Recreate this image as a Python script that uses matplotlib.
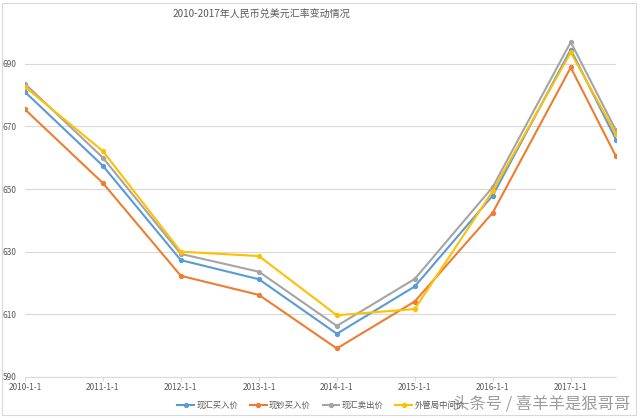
import matplotlib
matplotlib.use('Agg')
import matplotlib.pyplot as plt
import datetime as dt
from matplotlib.patches import Rectangle

plt.rcParams['font.family'] = ['Noto Sans CJK SC', 'DejaVu Sans']

# 数据
dates = ['2010-01-01', '2011-01-01', '2012-01-01', '2013-01-01', '2014-01-01',
         '2015-01-01', '2016-01-01', '2017-01-01', '2017-08-01']
xianhui_buy = [681.0, 657.4, 627.3, 621.2, 603.8, 618.9, 647.9, 694.5, 665.8]
xianchao_buy = [675.4, 651.9, 622.3, 616.2, 599.1, 614.1, 642.4, 688.8, 660.4]
xianhui_sell = [683.6, 660.0, 629.3, 623.6, 606.3, 621.3, 650.6, 696.9, 668.7]
mid_price = [682.6, 662.1, 630.0, 628.6, 609.7, 611.7, 649.3, 693.6, 667.5]

series_names = ['现汇买入价', '现钞买入价', '现汇卖出价', '外管局中间价']
colors = ['#5B9BD5', '#ED7D31', '#A5A5A5', '#FFC000']

tick_dates = ['2010-01-01', '2011-01-01', '2012-01-01', '2013-01-01',
              '2014-01-01', '2015-01-01', '2016-01-01', '2017-01-01']
tick_labels = ['2010-1-1', '2011-1-1', '2012-1-1', '2013-1-1',
               '2014-1-1', '2015-1-1', '2016-1-1', '2017-1-1']
y_ticks = [590, 610, 630, 650, 670, 690]

x = [dt.datetime.strptime(d, '%Y-%m-%d') for d in dates]
xt = [dt.datetime.strptime(d, '%Y-%m-%d') for d in tick_dates]

fig = plt.figure(figsize=(6.4, 4.18), dpi=100)
ax = fig.add_axes([25/640, 41/418, 591/640, 344.6/418])

for vals, name, c in zip([xianhui_buy, xianchao_buy, xianhui_sell, mid_price], series_names, colors):
    ax.plot(x, vals, color=c, lw=1.5, marker='o', ms=2.8, label=name)

ax.set_xlim(x[0], x[-1])
ax.set_ylim(590, 700)
ax.set_yticks(y_ticks)
ax.set_xticks(xt)
ax.set_xticklabels(tick_labels)
ax.grid(axis='y', color='#D9D9D9', lw=0.8)
ax.set_axisbelow(True)
for s in ['left', 'right', 'top']:
    ax.spines[s].set_visible(False)
ax.spines['bottom'].set_color('#D9D9D9')
ax.tick_params(axis='y', length=0, labelsize=6, labelcolor='#595959', pad=6)
ax.tick_params(axis='x', length=3, color='#D9D9D9', labelsize=6, labelcolor='#595959', pad=1)

fig.text(261/640, 1 - 15/418, '2010-2017年人民币兑美元汇率变动情况', ha='center', va='center',
         fontsize=7.2, color='#595959')

fig.legend(loc='center', bbox_to_anchor=(321/640, 1 - 405/418), ncol=4, frameon=False,
           fontsize=6, labelcolor='#595959', handlelength=2.0, columnspacing=1.4,
           handletextpad=0.3)

fig.text(630/640, 1 - 404/418, '头条号 / 喜羊羊是狠哥哥', ha='right', va='center',
         fontsize=11.8, color='#8c8c8c', alpha=0.85)

fig.patches.append(Rectangle((2/640, 3/418), 634/640, 412/418, transform=fig.transFigure,
                             fill=False, edgecolor='#D9D9D9', lw=0.8))

fig.savefig('out.png', dpi=100)
